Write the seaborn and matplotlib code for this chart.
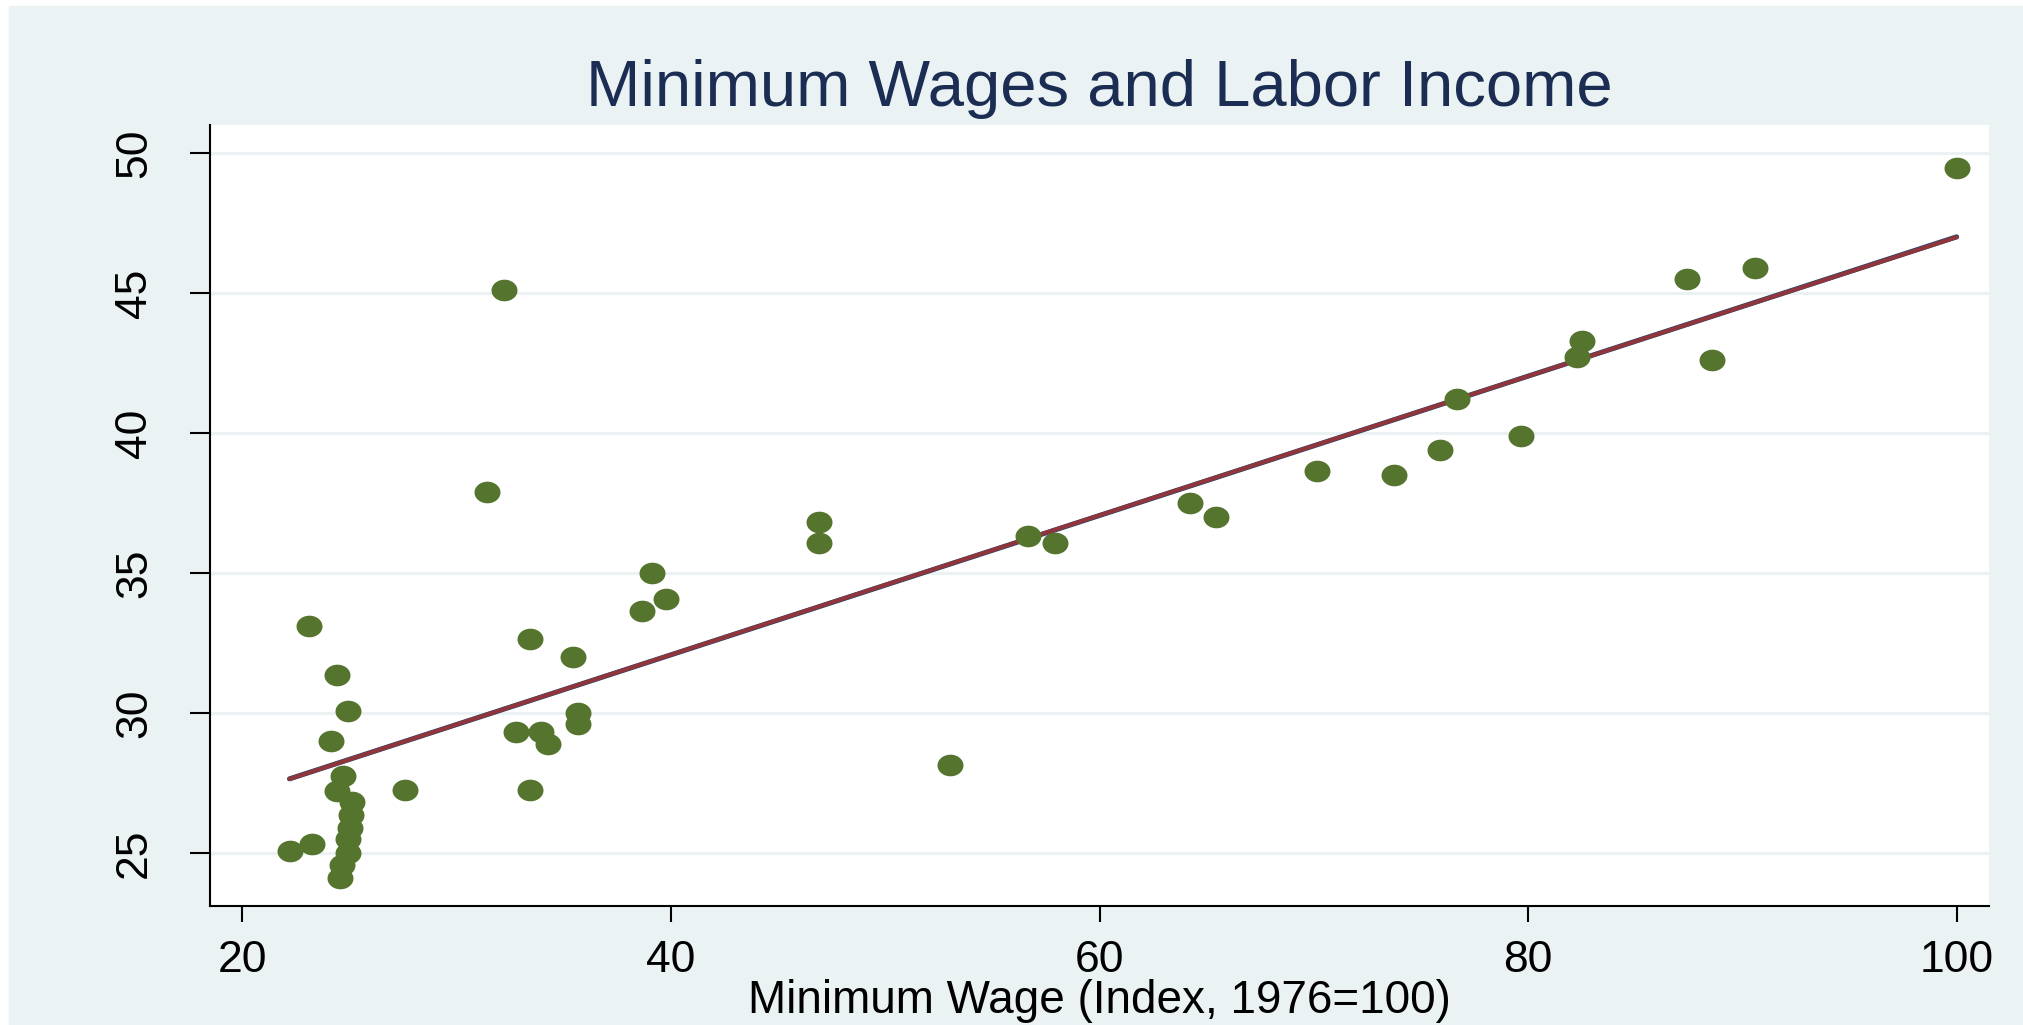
import matplotlib

matplotlib.use("Agg")
import matplotlib.pyplot as plt
import numpy as np
import pandas as pd
import seaborn as sns
from matplotlib.path import Path
from matplotlib.patches import Rectangle

# Minimum wage index (1976=100) and labor income share
min_wage = [
    22.2, 23.1, 23.25, 24.15, 24.4, 24.4, 24.7, 24.95, 25.1, 25.05, 25.0,
    24.95, 24.95, 24.65, 24.55, 27.6, 31.4, 32.2, 32.75, 33.4, 33.4, 33.95,
    34.25, 35.45, 35.65, 35.65, 38.65, 39.1, 39.75, 46.9, 46.9, 53.0, 56.65,
    57.9, 64.2, 65.45, 70.15, 73.75, 75.9, 76.7, 79.65, 82.3, 82.5, 87.4,
    88.6, 90.6, 100.0,
]
labor_income = [
    25.05, 33.1, 25.3, 29.0, 31.35, 27.2, 27.75, 30.05, 26.8, 26.35, 25.9,
    25.5, 25.0, 24.55, 24.1, 27.25, 37.9, 45.1, 29.3, 32.65, 27.25, 29.3,
    28.9, 32.0, 30.0, 29.6, 33.65, 35.0, 34.05, 36.8, 36.05, 28.15, 36.3,
    36.05, 37.5, 37.0, 38.65, 38.5, 39.4, 41.2, 39.9, 42.7, 43.3, 45.5,
    42.6, 45.9, 49.45,
]
x_ticks = [20, 40, 60, 80, 100]
y_ticks = [25, 30, 35, 40, 45, 50]

BG = "#EAF2F3"
NAVY = "#1A476F"
MAROON = "#90353B"
GREEN = "#55752F"
TITLE = "#1C2D54"


def setup_plotting():
    """Set up plotting style."""
    sns.set_style("white")
    plt.rcParams["font.family"] = ["Liberation Sans", "DejaVu Sans"]
    plt.rcParams["figure.dpi"] = 100
    plt.rcParams["savefig.dpi"] = 100


def ellipse_marker(aspect=1.2):
    """Slightly wide dot, like the stretched markers in the original."""
    t = np.linspace(0, 2 * np.pi, 60)
    verts = np.column_stack([aspect * np.cos(t), np.sin(t)])
    return Path(verts, closed=True)


def plot_min_wage(df):
    fig = plt.figure(figsize=(20.23, 10.25), facecolor="white")
    fig.patches.append(
        Rectangle((9 / 2023, 0), 1, 1 - 6 / 1025, transform=fig.transFigure,
                  color=BG, zorder=-10)
    )
    ax = fig.add_axes([210 / 2023, 119 / 1025, 1779 / 2023, 781 / 1025])
    ax.set_facecolor("white")

    # Fits first so the dots sit on top of them
    sns.regplot(data=df, x="min_wage", y="labor_income", ax=ax, ci=None,
                scatter=False, order=1,
                line_kws={"color": NAVY, "linewidth": 3.6, "zorder": 2})
    sns.regplot(data=df, x="min_wage", y="labor_income", ax=ax, ci=None,
                scatter=False, order=2,
                line_kws={"color": MAROON, "linewidth": 3.0, "zorder": 2.1})
    sns.scatterplot(data=df, x="min_wage", y="labor_income", ax=ax,
                    marker=ellipse_marker(), s=350, color=GREEN,
                    linewidth=0, zorder=3)

    ax.set_xlim(18.49, 101.51)
    ax.set_ylim(23.1, 51.0)
    ax.set_xticks(x_ticks)
    ax.set_yticks(y_ticks)
    ax.yaxis.grid(True, color=BG, lw=2.2, zorder=0)
    ax.xaxis.grid(False)
    ax.set_axisbelow(True)

    for side in ["top", "right"]:
        ax.spines[side].set_visible(False)
    for side in ["left", "bottom"]:
        ax.spines[side].set_color("black")
        ax.spines[side].set_linewidth(1.5)

    ax.tick_params(axis="x", length=11.5, width=1.5, pad=13, labelsize=32,
                   colors="black", direction="out", bottom=True)
    ax.tick_params(axis="y", length=14.4, width=1.5, pad=40, labelsize=32,
                   colors="black", direction="out", left=True, labelrotation=90)
    for lbl in ax.get_yticklabels():
        lbl.set_va("center")
        lbl.set_ha("center")

    ax.set_title("Minimum Wages and Labor Income", fontsize=47, color=TITLE,
                 pad=14)
    ax.set_xlabel("Minimum Wage (Index, 1976=100)", fontsize=33, color="black")
    ax.xaxis.set_label_coords(0.5, -0.094)
    ax.set_ylabel("")

    fig.savefig("out.png", facecolor=fig.get_facecolor())
    plt.close(fig)


if __name__ == "__main__":
    setup_plotting()
    data = pd.DataFrame({"min_wage": min_wage, "labor_income": labor_income})
    plot_min_wage(data)
